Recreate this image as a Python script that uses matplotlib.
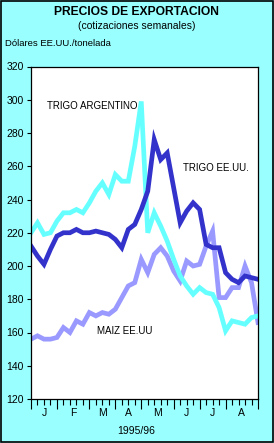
import matplotlib
matplotlib.use("Agg")
import matplotlib.pyplot as plt
from matplotlib.patches import Rectangle
import numpy as np

# weekly export prices, USD/ton (Jan .. Aug, 1995/96)
trigo_arg = [220, 226, 219, 220, 227, 232, 232, 234, 232, 238, 245, 250,
             243, 255, 251, 251, 272, 299, 220, 232, 224, 215, 204, 194,
             188, 183, 187, 184, 183, 175, 161, 167, 166, 165, 169, 170]
trigo_usa = [212, 206, 201, 210, 218, 220, 220, 222, 220, 220, 221, 220,
             219, 216, 211, 222, 225, 234, 245, 276, 264, 268, 247, 226,
             233, 238, 234, 213, 211, 211, 196, 192, 190, 194, 193, 192]
maiz_usa = [156, 158, 156, 156, 157, 163, 160, 167, 165, 172, 170, 172,
            171, 174, 181, 188, 190, 204, 196, 207, 211, 206, 197, 191,
            203, 200, 201, 212, 221, 181, 181, 187, 187, 200, 190, 166]

months = ["J", "F", "M", "A", "M", "J", "J", "A"]
weeks_per_month = [4, 5, 4, 4, 5, 4, 4, 5]

bg = "#99FFFF"
plt.rcParams["font.family"] = ["Liberation Sans", "DejaVu Sans"]

fig = plt.figure(figsize=(2.74, 4.43), dpi=100, facecolor=bg)
ax = fig.add_axes([31 / 274, 1 - 399 / 443, 227 / 274, 332.5 / 443])
ax.set_facecolor("white")

x = np.arange(len(trigo_arg))
ax.plot(x, maiz_usa, color="#9999FF", lw=3.4, solid_joinstyle="miter")
ax.plot(x, trigo_arg, color="#66FFFF", lw=3.4, solid_joinstyle="miter")
ax.plot(x, trigo_usa, color="#3333CC", lw=3.4, solid_joinstyle="miter")

ax.set_xlim(0, 35)
ax.set_ylim(120, 320)
ax.set_yticks(range(120, 321, 20))
ax.tick_params(axis="y", direction="out", length=3, width=0.8, labelsize=7.5, pad=2)

bounds = np.concatenate([[0], np.cumsum(weeks_per_month)])
ax.set_xticks(bounds)
ax.set_xticks(np.arange(0, 36), minor=True)
ax.set_xticklabels([])
ax.tick_params(axis="x", which="major", direction="out", length=7, width=0.8)
ax.tick_params(axis="x", which="minor", direction="out", length=4, width=0.8)
for m, a, b in zip(months, bounds[:-1], bounds[1:]):
    ax.text((a + b) / 2, -14 / 332.5, m, transform=ax.get_xaxis_transform(),
            ha="center", va="center", fontsize=7.5)

for s in ax.spines.values():
    s.set_linewidth(0.9)

ax.text(2.5, 296, "TRIGO ARGENTINO", fontsize=7, va="center")
ax.text(23.5, 259, "TRIGO EE.UU.", fontsize=7, va="center")
ax.text(10.2, 161, "MAIZ EE.UU", fontsize=7, va="center")

fig.text(137 / 274, 1 - 12 / 443, "PRECIOS DE EXPORTACION", ha="center",
         va="center", fontsize=8.7, fontweight="bold")
fig.text(137 / 274, 1 - 26 / 443, "(cotizaciones semanales)", ha="center",
         va="center", fontsize=7.5)
fig.text(5 / 274, 1 - 44 / 443, "Dólares EE.UU./tonelada", ha="left",
         va="center", fontsize=6.8)
fig.text(136 / 274, 1 - 431 / 443, "1995/96", ha="center", va="center",
         fontsize=7.5)

fig.patches.append(Rectangle((0.002, 0.002), 0.995, 0.996, transform=fig.transFigure,
                             fill=False, edgecolor="black", lw=1.2))

fig.savefig("out.png", dpi=100, facecolor=bg)
